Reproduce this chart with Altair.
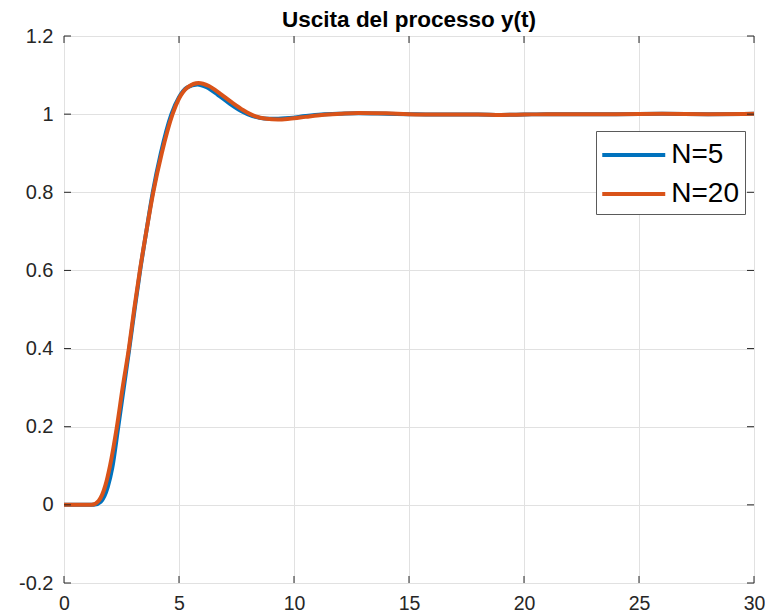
import altair as alt
import pandas as pd

# --- data ---
t_n5 = [0, 1.3, 1.6, 1.9, 2.1, 2.36, 2.6, 2.84, 3.07, 3.31, 3.58, 3.86, 4.21, 4.67, 5.0, 5.35,
        5.8, 6.2, 6.7, 7.2, 7.7, 8.2, 8.7, 9.2, 9.8, 10.5, 11.2, 12.0, 12.8, 14, 15, 16, 17,
        18, 19, 20, 21, 22, 24, 26, 28, 30]
y_n5 = [0, 0, 0.008, 0.045, 0.095, 0.2, 0.3, 0.4, 0.5, 0.6, 0.7, 0.8, 0.9, 1.0, 1.043, 1.068,
        1.076, 1.069, 1.049, 1.027, 1.008, 0.995, 0.989, 0.988, 0.99, 0.995, 0.999, 1.001, 1.002,
        1.001, 1.0, 0.999, 0.999, 0.999, 0.998, 0.999, 1.0, 1.0, 1.0, 1.001, 1.0, 1.001]

t_n20 = [0, 1.2, 1.5, 1.8, 2.0, 2.3, 2.55, 2.82, 3.05, 3.3, 3.58, 3.88, 4.25, 4.72, 5.0, 5.4,
         5.85, 6.3, 6.8, 7.3, 7.8, 8.3, 8.8, 9.3, 9.8, 10.5, 11.2, 12.0, 12.8, 14, 15, 16, 17,
         18, 19, 20, 21, 22, 24, 26, 28, 30]
y_n20 = [0, 0, 0.01, 0.05, 0.10, 0.2, 0.3, 0.4, 0.5, 0.6, 0.7, 0.8, 0.9, 1.0, 1.04, 1.07,
         1.08, 1.072, 1.052, 1.03, 1.01, 0.995, 0.988, 0.986, 0.988, 0.993, 0.998, 1.001, 1.003,
         1.002, 1.0, 0.999, 0.999, 0.999, 0.998, 0.999, 1.0, 1.0, 1.0, 1.001, 1.0, 1.001]

series_names = ["N=5", "N=20"]
series_colors = ["#0072BD", "#D95319"]
x_ticks = [0, 5, 10, 15, 20, 25, 30]
y_ticks = [-0.2, 0, 0.2, 0.4, 0.6, 0.8, 1.0, 1.2]
title_text = "Uscita del processo y(t)"

W, H = 690, 547
TICK = 7
AX = "#262626"
FONT = "Liberation Sans"

df5 = pd.DataFrame({"t": t_n5, "y": y_n5, "serie": series_names[0]})
df20 = pd.DataFrame({"t": t_n20, "y": y_n20, "serie": series_names[1]})
dfx = pd.DataFrame({"v": x_ticks})
dfy = pd.DataFrame({"v": y_ticks})

xscale = alt.Scale(domain=[0, 30], nice=False, zero=False)
yscale = alt.Scale(domain=[-0.2, 1.2], nice=False, zero=False)
cscale = alt.Scale(domain=series_names, range=series_colors)

xaxis = alt.Axis(values=x_ticks, title=None, grid=True, gridColor="#e1e1e1", gridWidth=1,
                 domain=False, ticks=False, labelFontSize=19.5, labelFont=FONT,
                 labelColor=AX, labelPadding=11, labelFlush=False)
yaxis = alt.Axis(values=y_ticks, title=None, grid=True, gridColor="#e1e1e1", gridWidth=1,
                 domain=False, ticks=False, labelFontSize=20, labelFont=FONT,
                 labelColor=AX, labelPadding=11, format=".1~f",
                 labelExpr="replace(datum.label, '\u2212', '-')")

legend = alt.Legend(orient="none", legendX=532, legendY=95, title=None,
                    symbolType="M-2,0L2,0", symbolStrokeWidth=4, symbolSize=992,
                    symbolOffset=13.75, labelOffset=19.5, rowPadding=7,
                    labelFontSize=28, labelFont=FONT, labelColor="#000",
                    strokeColor="#5a5a5a", fillColor="white",
                    padding=6, symbolOpacity=1)

def line(df):
    return alt.Chart(df).mark_line(strokeWidth=4, interpolate="monotone").encode(
        x=alt.X("t:Q", scale=xscale, axis=xaxis),
        y=alt.Y("y:Q", scale=yscale, axis=yaxis),
        color=alt.Color("serie:N", scale=cscale, legend=legend, sort=series_names),
    )

top_ticks = alt.Chart(dfx).mark_rule(color=AX, strokeWidth=1).encode(
    x=alt.X("v:Q", scale=xscale), y=alt.value(0), y2=alt.value(TICK))
bot_ticks = alt.Chart(dfx).mark_rule(color=AX, strokeWidth=1).encode(
    x=alt.X("v:Q", scale=xscale), y=alt.value(H - TICK), y2=alt.value(H))
left_ticks = alt.Chart(dfy).mark_rule(color=AX, strokeWidth=1).encode(
    y=alt.Y("v:Q", scale=yscale), x=alt.value(0), x2=alt.value(TICK))
right_ticks = alt.Chart(dfy).mark_rule(color=AX, strokeWidth=1).encode(
    y=alt.Y("v:Q", scale=yscale), x=alt.value(W - TICK), x2=alt.value(W))

chart = alt.layer(
    line(df5), line(df20), top_ticks, bot_ticks, left_ticks, right_ticks
).properties(
    width=W, height=H,
    title=alt.TitleParams(title_text, font=FONT, fontSize=22.5, fontWeight="bold",
                          color="#000", anchor="middle", offset=0, dy=5),
    autosize=alt.AutoSizeParams(type="none"),
    padding={"left": 56, "top": 28, "right": 11, "bottom": 30},
).configure_view(stroke=AX, strokeWidth=1).configure(background="white")

chart.save("out.html", embed_options={"renderer": "svg", "actions": False})
